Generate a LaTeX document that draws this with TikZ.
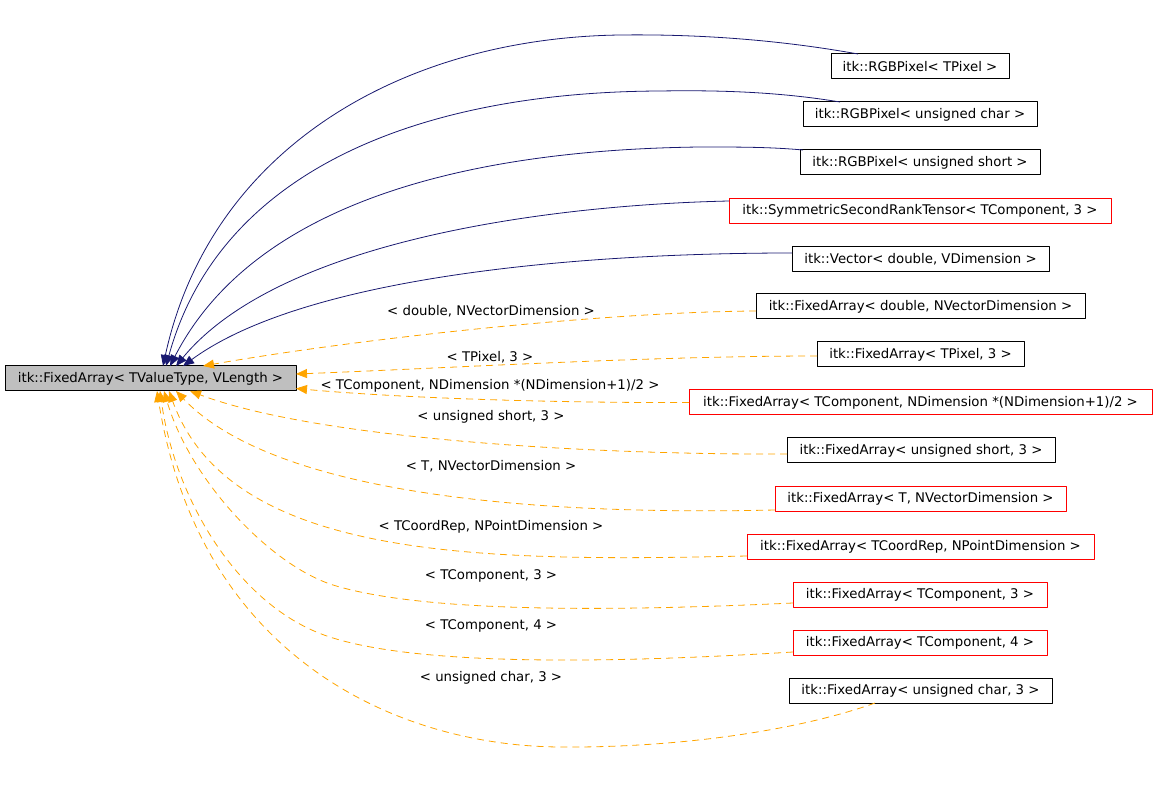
\documentclass[tikz,border=0pt]{standalone}
\usepackage{fontspec}
\setmainfont{DejaVu Sans}
\usetikzlibrary{arrows.meta}
\definecolor{navy}{HTML}{191970}
\definecolor{dxorange}{HTML}{FFA500}
\definecolor{basegray}{HTML}{BFBFBF}
\begin{document}
\begin{tikzpicture}[x=1pt, y=-1pt, font=\fontsize{13.3}{15}\selectfont, line join=round, >={Triangle[length=11pt,width=9pt]},
	cls/.style={draw, line width=1pt, minimum height=25pt, inner sep=0pt, outer sep=0pt},
	tmpl/.style={cls, draw=red},
	inh/.style={->, draw=navy, line width=0.8pt},
	use/.style={->, draw=dxorange, line width=0.8pt, dash pattern=on 7pt off 5pt},
	lbl/.style={inner sep=1pt}]
	\useasboundingbox (0,0) rectangle (1157,799);
	\node[cls, fill=basegray, minimum width=291pt] (base) at (150.5,378.5) {itk::FixedArray< TValueType, VLength >};
	\node[cls, minimum width=178pt] (n1) at (920,66.5) {itk::RGBPixel< TPixel >};
	\node[cls, minimum width=234pt] (n2) at (920,114.5) {itk::RGBPixel< unsigned char >};
	\node[cls, minimum width=240pt] (n3) at (920,162.5) {itk::RGBPixel< unsigned short >};
	\node[tmpl, minimum width=382pt] (n4) at (920,211) {itk::SymmetricSecondRankTensor< TComponent, 3 >};
	\node[cls, minimum width=257pt] (n5) at (920.5,259) {itk::Vector< double, VDimension >};
	\node[cls, minimum width=329pt] (n6) at (920.5,306.5) {itk::FixedArray< double, NVectorDimension >};
	\node[cls, minimum width=207pt] (n7) at (920.5,354.5) {itk::FixedArray< TPixel, 3 >};
	\node[tmpl, minimum width=463pt] (n8) at (920.5,402.5) {itk::FixedArray< TComponent, NDimension *(NDimension+1)/2 >};
	\node[cls, minimum width=268pt] (n9) at (921,450.5) {itk::FixedArray< unsigned short, 3 >};
	\node[tmpl, minimum width=291pt] (n10) at (920.5,498.5) {itk::FixedArray< T, NVectorDimension >};
	\node[tmpl, minimum width=347pt] (n11) at (920.5,546.5) {itk::FixedArray< TCoordRep, NPointDimension >};
	\node[tmpl, minimum width=254pt] (n12) at (920,594.5) {itk::FixedArray< TComponent, 3 >};
	\node[tmpl, minimum width=254pt] (n13) at (920,642.5) {itk::FixedArray< TComponent, 4 >};
	\node[cls, minimum width=263pt] (n14) at (920.5,690.5) {itk::FixedArray< unsigned char, 3 >};
	\draw[inh] ([xshift=27pt]n1.north west) .. controls (780,40) and (700,34) .. (620,35) .. controls (400,38) and (210,150) .. ([xshift=158pt]base.north west);
	\draw[inh] ([xshift=37pt]n2.north west) .. controls (780,92) and (720,90) .. (660,91) .. controls (420,92) and (220,170) .. ([xshift=161pt]base.north west);
	\draw[inh] ([xshift=3pt]n3.north west) .. controls (770,147) and (740,147) .. (700,147) .. controls (450,150) and (250,210) .. ([xshift=165pt]base.north west);
	\draw[inh] ([yshift=10pt]n4.west) .. controls (550,205) and (280,240) .. ([xshift=171pt]base.north west);
	\draw[inh] ([yshift=6pt]n5.west) .. controls (560,253) and (300,280) .. ([xshift=178pt]base.north west);
	\draw[use] ([yshift=-4.5pt]n6.west) .. controls (600,312) and (350,340) .. ([xshift=198pt]base.north west);
	\draw[use] ([yshift=-1.5pt]n7.west) .. controls (650,356) and (450,368) .. ([yshift=4.5pt]base.east);
	\draw[use] (n8.west) .. controls (550,403) and (400,398) .. ([yshift=-10pt]base.east);
	\draw[use] ([yshift=-3.5pt]n9.west) .. controls (600,455) and (320,440) .. ([xshift=185pt]base.south west);
	\draw[use] ([yshift=-11.5pt]n10.west) .. controls (560,515) and (280,500) .. ([xshift=171pt]base.south west);
	\draw[use] ([yshift=-9.5pt]n11.west) .. controls (480,562) and (230,560) .. ([xshift=164pt]base.south west);
	\draw[use] ([yshift=-8.5pt]n12.west) .. controls (600,612) and (420,612) .. (333,585) .. controls (270,565) and (190,480) .. ([xshift=159pt]base.south west);
	\draw[use] ([yshift=-9.5pt]n13.west) .. controls (600,664) and (420,665) .. (333,638) .. controls (240,610) and (175,500) .. ([xshift=155pt]base.south west);
	\draw[use] ([xshift=86pt]n14.south west) .. controls (800,730) and (680,748) .. (560,747) .. controls (400,746) and (200,660) .. ([xshift=152pt]base.south west);
	\node[lbl] (l6) at (491,311) {< double, NVectorDimension >};
	\node[lbl] (l7) at (490,357) {< TPixel, 3 >};
	\node[lbl] (l8) at (490,386) {< TComponent, NDimension *(NDimension+1)/2 >};
	\node[lbl] (l9) at (491,417) {< unsigned short, 3 >};
	\node[lbl] (l10) at (491,466) {< T, NVectorDimension >};
	\node[lbl] (l11) at (491,527) {< TCoordRep, NPointDimension >};
	\node[lbl] (l12) at (491,576) {< TComponent, 3 >};
	\node[lbl] (l13) at (491,626) {< TComponent, 4 >};
	\node[lbl] (l14) at (491,678) {< unsigned char, 3 >};
\end{tikzpicture}
\end{document}
